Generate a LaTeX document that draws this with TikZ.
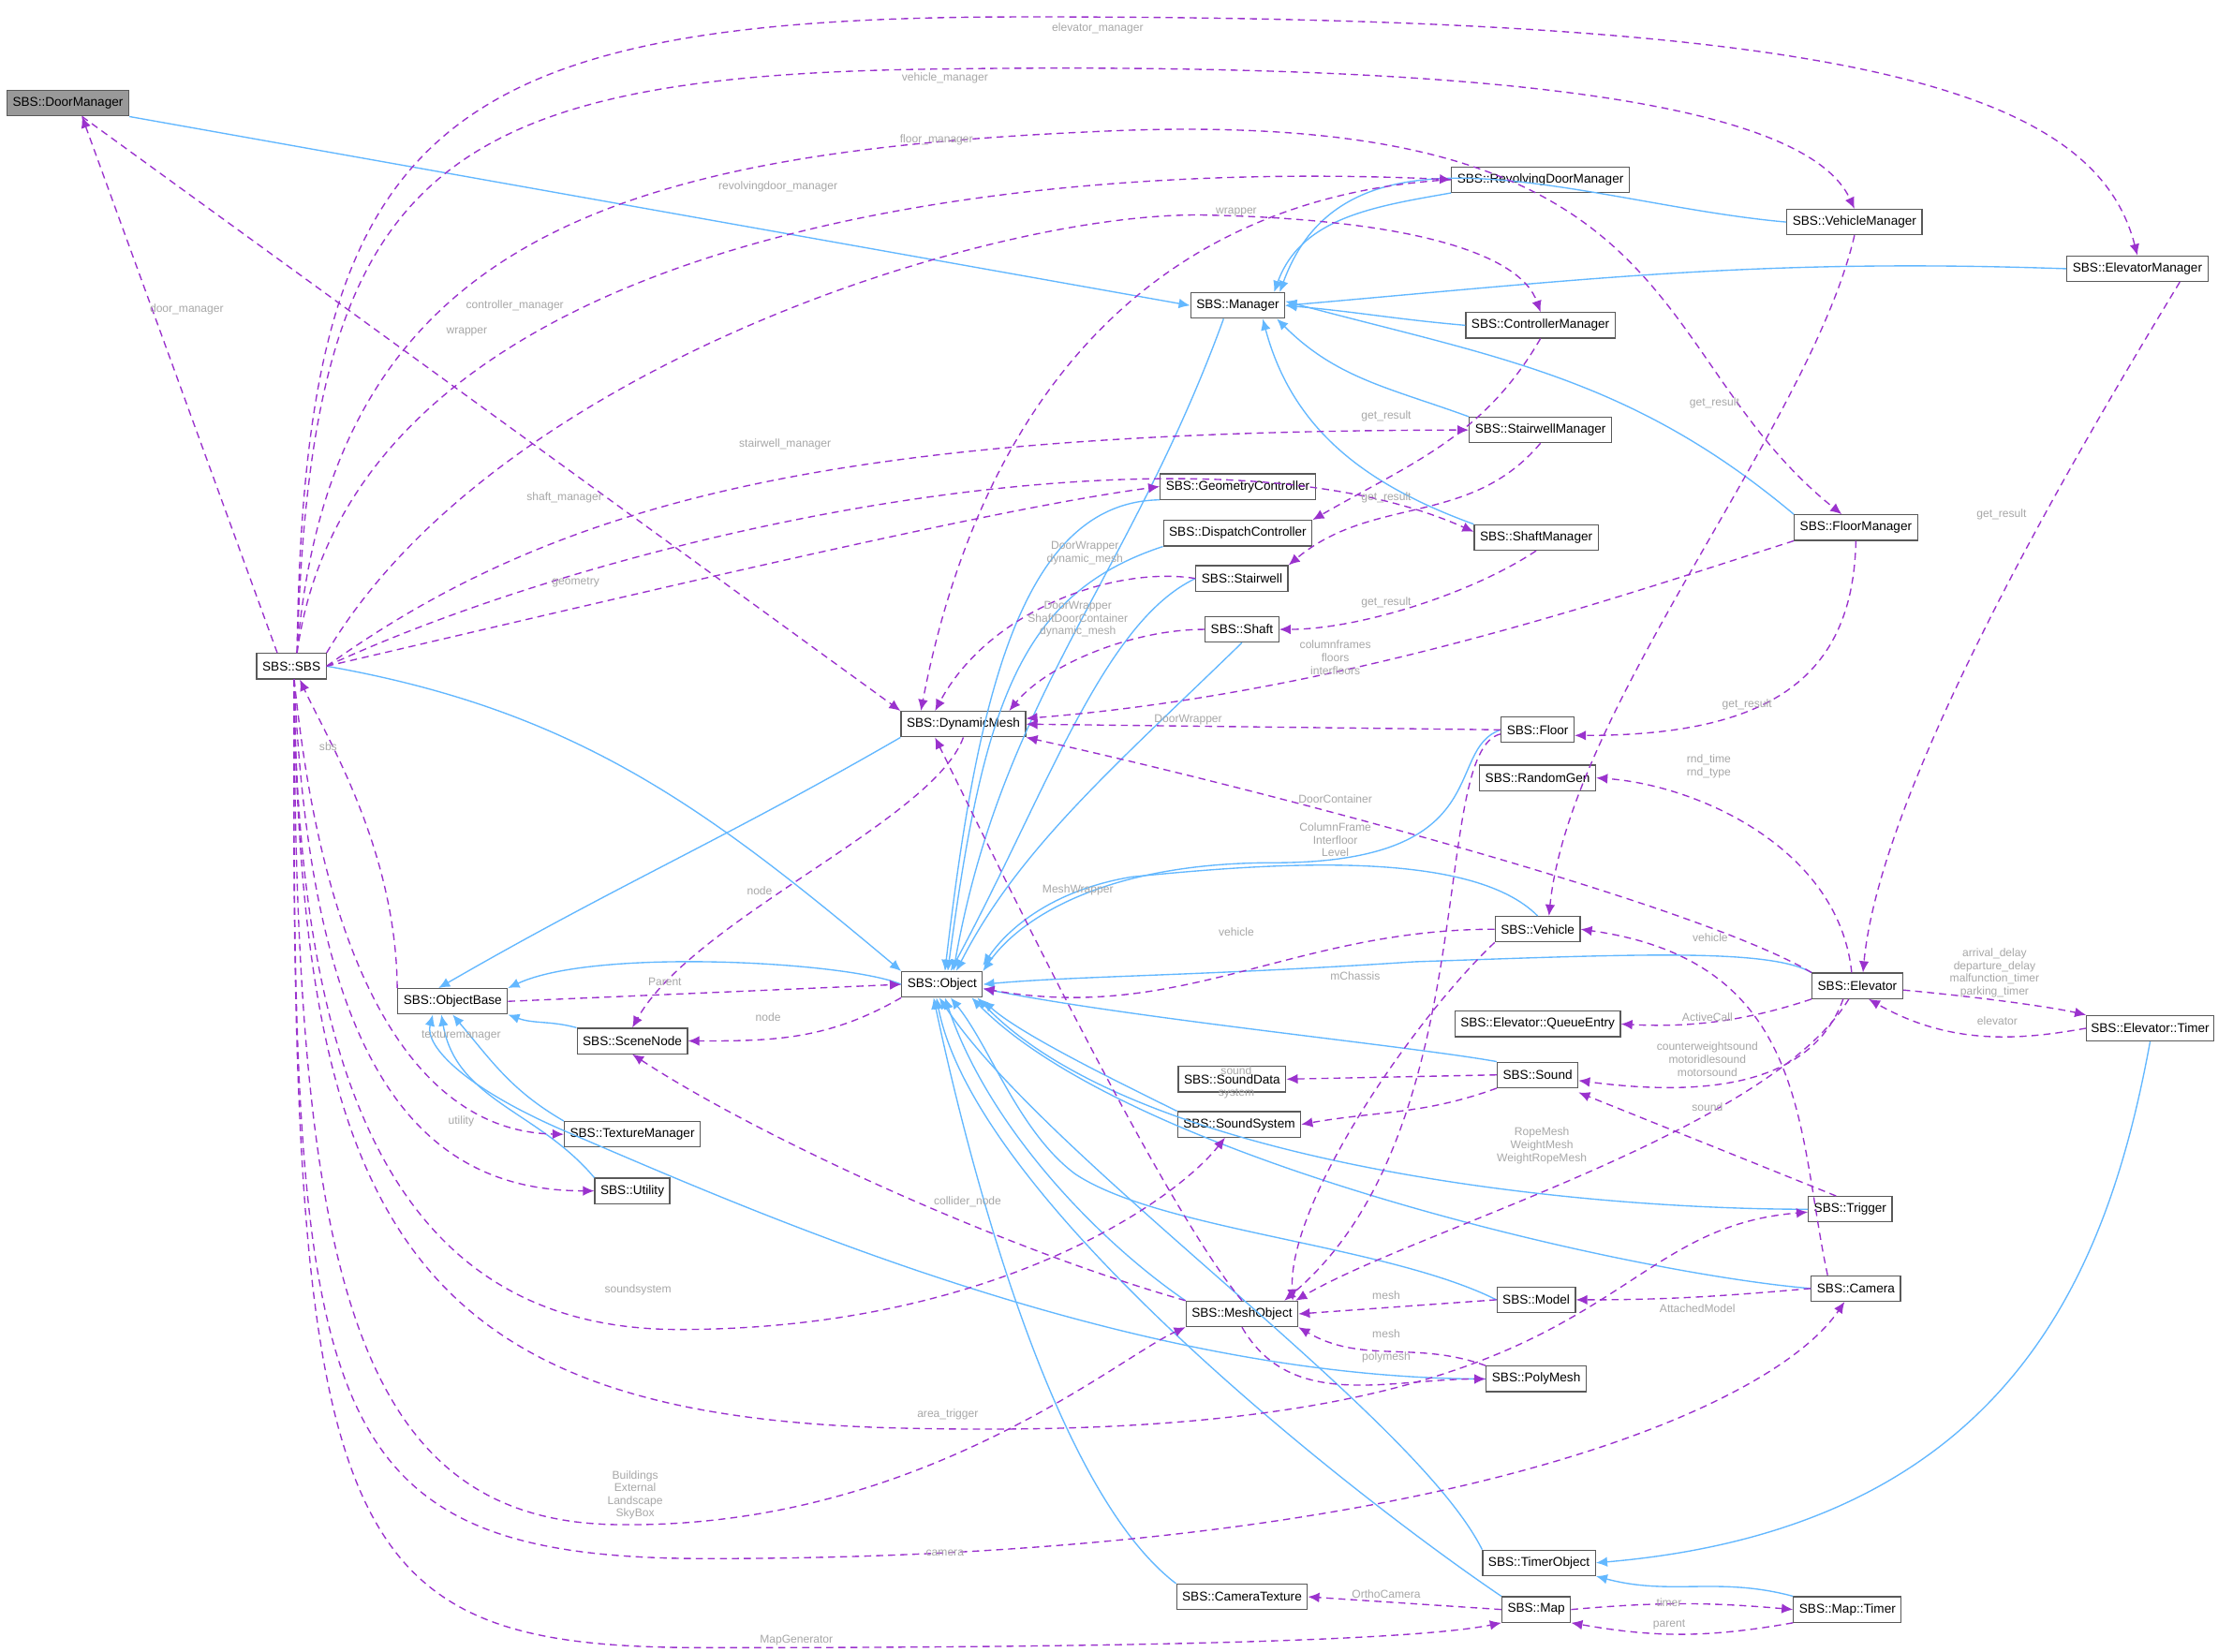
\documentclass[tikz,border=0pt]{standalone}
\usepackage{fontspec}
\setmainfont{Liberation Sans}
\usetikzlibrary{arrows.meta}
\definecolor{inhc}{HTML}{63B8FF}
\definecolor{usec}{HTML}{9A32CD}
\definecolor{lblc}{HTML}{A8A8A8}
\begin{document}
\begin{tikzpicture}[x=1pt,y=-1pt,
 box/.style={draw=black!65, fill=white, line width=0.8pt, font=\fontsize{9}{10}\selectfont, inner xsep=4pt, inner ysep=0pt, minimum height=18pt},
 inh/.style={draw=inhc, line width=0.9pt, -{Latex[length=8pt,width=7pt]}},
 use/.style={draw=usec, line width=0.9pt, dash pattern=on 5pt off 3.5pt, -{Latex[length=8pt,width=7pt]}},
 lbl/.style={font=\fontsize{8}{9}\selectfont, text=lblc, align=center, inner sep=0pt}]
\useasboundingbox (0,0) rectangle (1568,1168);
\fill[white] (0,0) rectangle (1568,1168);
% nodes
\node[box, fill=black!40] (dm) at (48,73) {SBS::DoorManager};
\node[box] (sbs) at (206,471) {SBS::SBS};
\node[box] (mgr) at (875,216) {SBS::Manager};
\node[box] (rdm) at (1089,127) {SBS::RevolvingDoorManager};
\node[box] (vm) at (1311,157) {SBS::VehicleManager};
\node[box] (em) at (1511,190) {SBS::ElevatorManager};
\node[box] (cm) at (1089,230) {SBS::ControllerManager};
\node[box] (stm) at (1089,304) {SBS::StairwellManager};
\node[box] (gc) at (875,344) {SBS::GeometryController};
\node[box] (shm) at (1086,380) {SBS::ShaftManager};
\node[box] (dc) at (875,377) {SBS::DispatchController};
\node[box] (fm) at (1312,373) {SBS::FloorManager};
\node[box] (sw) at (878,409) {SBS::Stairwell};
\node[box] (sh) at (878,445) {SBS::Shaft};
\node[box] (dynm) at (681,512) {SBS::DynamicMesh};
\node[box] (fl) at (1087,516) {SBS::Floor};
\node[box] (rg) at (1087,550) {SBS::RandomGen};
\node[box] (ob) at (320,708) {SBS::ObjectBase};
\node[box] (obj) at (666,696) {SBS::Object};
\node[box] (sn) at (447,736) {SBS::SceneNode};
\node[box] (veh) at (1087,657) {SBS::Vehicle};
\node[box] (elev) at (1313,697) {SBS::Elevator};
\node[box] (qe) at (1087,724) {SBS::Elevator::QueueEntry};
\node[box, inner xsep=3pt] (et) at (1520,727) {SBS::Elevator::Timer};
\node[box] (snd) at (1087,760) {SBS::Sound};
\node[box] (sdata) at (871,763) {SBS::SoundData};
\node[box] (ss) at (876,795) {SBS::SoundSystem};
\node[box] (tm) at (447,802) {SBS::TextureManager};
\node[box] (ut) at (447,842) {SBS::Utility};
\node[box] (trig) at (1308,855) {SBS::Trigger};
\node[box] (cam) at (1312,911) {SBS::Camera};
\node[box] (mo) at (878,929) {SBS::MeshObject};
\node[box] (mod) at (1086,919) {SBS::Model};
\node[box] (pm) at (1086,975) {SBS::PolyMesh};
\node[box] (tob) at (1088,1105) {SBS::TimerObject};
\node[box] (ct) at (878,1129) {SBS::CameraTexture};
\node[box] (map) at (1086,1138) {SBS::Map};
\node[box] (mt) at (1306,1138) {SBS::Map::Timer};
% inheritance
\draw[inh] (dm.south east) -- (mgr.west);
\draw[inh] (rdm.south west) to[out=190,in=70] ([xshift=-8pt]mgr.north east);
\draw[inh] (vm.west) to[out=175,in=70] ([xshift=-4pt]mgr.north east);
\draw[inh] (em.west) to[out=178,in=5] (mgr.east);
\draw[inh] (cm.west) to[out=175,in=-5] (mgr.east);
\draw[inh] (stm.north west) to[out=160,in=-45] ([xshift=-6pt]mgr.south east);
\draw[inh] (shm.north west) to[out=160,in=-75] ([xshift=-16pt]mgr.south east);
\draw[inh] (fm.north west) to[out=140,in=-15] ([yshift=3pt]mgr.east);
\draw[inh] ([xshift=-10pt]mgr.south) to[out=-110,in=80] ([xshift=8pt]obj.north);
\draw[inh] (sbs.east) to[out=-10,in=140] (obj.north west);
\draw[inh] (dynm.south west) to[out=-150,in=30] ([xshift=-10pt]ob.north);
\draw[inh] (obj.west) .. controls (600,680) and (420,670) .. (ob.north east);
\draw[inh] (sn.north west) to[out=165,in=-20] (ob.south east);
\draw[inh] (tm.north west) to[out=150,in=-50] (ob.south);
\draw[inh] (ut.north west) to[out=130,in=-80] ([xshift=-8pt]ob.south);
\draw[inh] (gc.south west) .. controls (720,355) and (690,500) .. ([xshift=2pt]obj.north);
\draw[inh] (dc.south west) .. controls (720,420) and (695,500) .. ([xshift=4pt]obj.north);
\draw[inh] (sw.west) .. controls (780,440) and (740,560) .. ([xshift=6pt]obj.north);
\draw[inh] (sh.south) .. controls (790,540) and (720,600) .. ([xshift=10pt]obj.north);
\draw[inh] (fl.west) .. controls (1020,530) and (1060,610) .. (900,610) .. controls (780,610) and (720,650) .. (obj.north east);
\draw[inh] (veh.north) .. controls (1040,600) and (900,610) .. (800,620) .. controls (740,630) and (710,660) .. ([yshift=4pt]obj.north east);
\draw[inh] (elev.north west) .. controls (1250,670) and (1150,675) .. (1000,680) .. controls (850,690) and (760,690) .. (obj.east);
\draw[inh] (snd.north west) .. controls (1000,740) and (800,720) .. ([yshift=-3pt]obj.east);
\draw[inh] (ss.north west) .. controls (780,760) and (720,730) .. ([yshift=-2pt]obj.south east);
\draw[inh] (trig.west) .. controls (1100,855) and (800,820) .. ([xshift=-4pt]obj.south east);
\draw[inh] (cam.west) .. controls (1150,900) and (800,820) .. ([xshift=-8pt]obj.south east);
\draw[inh] (mod.west) .. controls (980,880) and (820,870) .. (760,830) .. controls (720,800) and (700,740) .. ([xshift=6pt]obj.south);
\draw[inh] (mo.north west) .. controls (780,880) and (700,800) .. ([xshift=2pt]obj.south);
\draw[inh] (pm.west) .. controls (800,975) and (540,860) .. (400,800) .. controls (330,770) and (300,740) .. ([xshift=-14pt]ob.south);
\draw[inh] (tob.north west) .. controls (1000,1000) and (740,820) .. ([xshift=-2pt]obj.south);
\draw[inh] (ct.north west) .. controls (740,1050) and (680,800) .. ([xshift=-6pt]obj.south);
\draw[inh] (map.north west) .. controls (960,1060) and (690,850) .. ([xshift=-4pt]obj.south);
\draw[inh] (et.south) .. controls (1490,900) and (1420,1080) .. (tob.east);
\draw[inh] (mt.north west) to[out=165,in=-15] (tob.south east);
% usage
\draw[use] ([xshift=-10pt]sbs.north) to[out=110,in=-70] ([xshift=10pt]dm.south);
\draw[use] ([xshift=4pt]sbs.north) .. controls (215,100) and (300,15) .. (700,12) .. controls (1300,10) and (1480,60) .. (em.north);
\draw[use] ([xshift=4pt]sbs.north) .. controls (220,130) and (300,55) .. (650,49) .. controls (1100,42) and (1280,80) .. (vm.north);
\draw[use] ([xshift=4pt]sbs.north) .. controls (235,160) and (450,105) .. (800,92) .. controls (1200,80) and (1160,250) .. ([xshift=-10pt]fm.north);
\draw[use] ([xshift=4pt]sbs.north) .. controls (250,170) and (700,112) .. (rdm.west);
\draw[use] (sbs.north east) .. controls (350,260) and (700,150) .. (850,152) .. controls (1000,155) and (1075,180) .. (cm.north);
\draw[use] (sbs.east) .. controls (400,350) and (600,305) .. (stm.west);
\draw[use] (sbs.east) .. controls (450,370) and (850,290) .. ([yshift=4pt]shm.west);
\draw[use] (sbs.east) .. controls (450,420) and (700,360) .. (gc.west);
\draw[use] ([xshift=10pt]dm.south) -- (dynm.north west);
\draw[use] (rdm.west) .. controls (800,140) and (690,300) .. ([xshift=-30pt]dynm.north);
\draw[use] (cm.south) to[out=-120,in=30] (dc.north east);
\draw[use] (stm.south) to[out=-130,in=40] (sw.north east);
\draw[use] (shm.south) .. controls (1040,420) and (960,445) .. (sh.east);
\draw[use] (vm.south) .. controls (1280,300) and (1110,500) .. ([xshift=8pt]veh.north);
\draw[use] ([xshift=30pt]em.south) .. controls (1480,300) and (1330,550) .. ([xshift=4pt]elev.north);
\draw[use] (fm.south) .. controls (1310,480) and (1250,520) .. ([yshift=-4pt]fl.east);
\draw[use] (sw.west) .. controls (790,400) and (700,430) .. ([xshift=-20pt]dynm.north);
\draw[use] (sh.west) .. controls (800,445) and (740,470) .. ([xshift=-12pt]dynm.north east);
\draw[use] (fm.south west) .. controls (1150,420) and (950,490) .. ([yshift=4pt]dynm.east);
\draw[use] (fl.west) -- (dynm.east);
\draw[use] (elev.north west) .. controls (1200,640) and (900,560) .. (dynm.south east);
\draw[use] ([yshift=-3pt]fl.west) .. controls (1010,530) and (1050,800) .. ([xshift=-10pt]mo.north east);
\draw[use] (dynm.south) .. controls (660,580) and (490,650) .. (sn.north);
\draw[use] (mo.north) .. controls (820,850) and (700,600) .. ([xshift=-20pt]dynm.south);
\draw[use] (obj.south west) to[out=-150,in=0] (sn.east);
\draw[use] (ob.east) -- (obj.west);
\draw[use] (ob.north west) .. controls (280,600) and (230,520) .. ([xshift=6pt]sbs.south);
\draw[use] ([xshift=2pt]sbs.south) .. controls (230,700) and (300,800) .. (tm.west);
\draw[use] ([xshift=2pt]sbs.south) .. controls (220,760) and (300,842) .. (ut.west);
\draw[use] ([xshift=2pt]sbs.south) .. controls (210,800) and (300,940) .. (480,940) .. controls (700,940) and (830,850) .. ([xshift=-10pt]ss.south);
\draw[use] ([xshift=2pt]sbs.south) .. controls (208,900) and (250,1078) .. (440,1078) .. controls (650,1080) and (790,960) .. (mo.south west);
\draw[use] ([xshift=2pt]sbs.south) .. controls (212,880) and (300,1005) .. (650,1010) .. controls (1150,1020) and (1120,870) .. ([yshift=-2pt]trig.west);
\draw[use] ([xshift=2pt]sbs.south) .. controls (206,1000) and (220,1102) .. (500,1102) .. controls (1000,1102) and (1250,1000) .. ([xshift=-8pt]cam.south);
\draw[use] ([xshift=2pt]sbs.south) .. controls (204,1100) and (240,1165) .. (500,1165) .. controls (800,1165) and (1000,1160) .. (map.south west);
\draw[use] (veh.west) to[out=180,in=-10] ([yshift=-3pt]obj.east);
\draw[use] (veh.south west) .. controls (1000,720) and (910,850) .. ([xshift=-4pt]mo.north east);
\draw[use] ([xshift=-4pt]elev.north) .. controls (1300,600) and (1200,555) .. (rg.east);
\draw[use] ([yshift=-3pt]elev.east) .. controls (1400,705) and (1450,712) .. (et.north west);
\draw[use] (et.west) .. controls (1430,735) and (1380,740) .. ([xshift=8pt]elev.south);
\draw[use] (elev.south west) .. controls (1240,720) and (1200,727) .. (qe.east);
\draw[use] ([xshift=-10pt]elev.south) .. controls (1280,770) and (1200,775) .. ([yshift=-4pt]snd.east);
\draw[use] ([xshift=-6pt]elev.south) .. controls (1250,800) and (1000,870) .. ([xshift=-2pt]mo.north east);
\draw[use] ([xshift=-20pt]cam.north) .. controls (1270,800) and (1280,680) .. (veh.east);
\draw[use] (snd.west) -- (sdata.east);
\draw[use] (snd.south west) to[out=-160,in=10] (ss.east);
\draw[use] ([xshift=-10pt]trig.north) -- ([yshift=-3pt]snd.south east);
\draw[use] (cam.west) to[out=185,in=0] (mod.east);
\draw[use] (mo.north west) .. controls (700,880) and (530,800) .. (sn.south);
\draw[use] (mod.west) -- (mo.east);
\draw[use] (pm.north west) to[out=160,in=-30] (mo.south east);
\draw[use] (mo.south) to[out=-60,in=180] (pm.west);
\draw[use] (map.west) -- (ct.east);
\draw[use] (map.east) to[out=5,in=175] (mt.west);
\draw[use] (mt.south west) to[out=-170,in=-10] (map.south east);
% labels
\node[lbl] at (776,20) {elevator\_manager};
\node[lbl] at (668,55) {vehicle\_manager};
\node[lbl] at (662,99) {floor\_manager};
\node[lbl] at (550,132) {revolvingdoor\_manager};
\node[lbl] at (364,216) {controller\_manager};
\node[lbl] at (330,235) {wrapper};
\node[lbl] at (874,150) {wrapper};
\node[lbl] at (132,219) {door\_manager};
\node[lbl] at (555,314) {stairwell\_manager};
\node[lbl] at (399,352) {shaft\_manager};
\node[lbl] at (407,412) {geometry};
\node[lbl] at (980,294) {get\_result};
\node[lbl] at (980,352) {get\_result};
\node[lbl] at (980,426) {get\_result};
\node[lbl] at (1212,285) {get\_result};
\node[lbl] at (1415,364) {get\_result};
\node[lbl] at (1235,498) {get\_result};
\node[lbl] at (767,391) {DoorWrapper\\dynamic\_mesh};
\node[lbl] at (762,438) {DoorWrapper\\ShaftDoorContainer\\dynamic\_mesh};
\node[lbl] at (944,465) {columnframes\\floors\\interfloors};
\node[lbl] at (840,509) {DoorWrapper};
\node[lbl] at (944,565) {DoorContainer};
\node[lbl] at (944,594) {ColumnFrame\\Interfloor\\Level};
\node[lbl] at (1208,542) {rnd\_time\\rnd\_type};
\node[lbl] at (537,630) {node};
\node[lbl] at (762,629) {MeshWrapper};
\node[lbl] at (874,659) {vehicle};
\node[lbl] at (958,690) {mChassis};
\node[lbl] at (470,694) {Parent};
\node[lbl] at (543,719) {node};
\node[lbl] at (232,528) {sbs};
\node[lbl] at (326,732) {texturemanager};
\node[lbl] at (326,793) {utility};
\node[lbl] at (1209,663) {vehicle};
\node[lbl] at (1207,719) {ActiveCall};
\node[lbl] at (1207,749) {counterweightsound\\motoridlesound\\motorsound};
\node[lbl] at (1410,688) {arrival\_delay\\departure\_delay\\malfunction\_timer\\parking\_timer};
\node[lbl] at (1412,722) {elevator};
\node[lbl] at (874,757) {sound};
\node[lbl] at (874,773) {system};
\node[lbl] at (1207,783) {sound};
\node[lbl] at (1090,810) {RopeMesh\\WeightMesh\\WeightRopeMesh};
\node[lbl] at (684,850) {collider\_node};
\node[lbl] at (451,912) {soundsystem};
\node[lbl] at (980,916) {mesh};
\node[lbl] at (980,943) {mesh};
\node[lbl] at (980,960) {polymesh};
\node[lbl] at (1200,925) {AttachedModel};
\node[lbl] at (670,1000) {area\_trigger};
\node[lbl] at (449,1057) {Buildings\\External\\Landscape\\SkyBox};
\node[lbl] at (668,1098) {camera};
\node[lbl] at (980,1127) {OrthoCamera};
\node[lbl] at (1180,1133) {timer};
\node[lbl] at (1180,1149) {parent};
\node[lbl] at (563,1160) {MapGenerator};
\end{tikzpicture}
\end{document}
